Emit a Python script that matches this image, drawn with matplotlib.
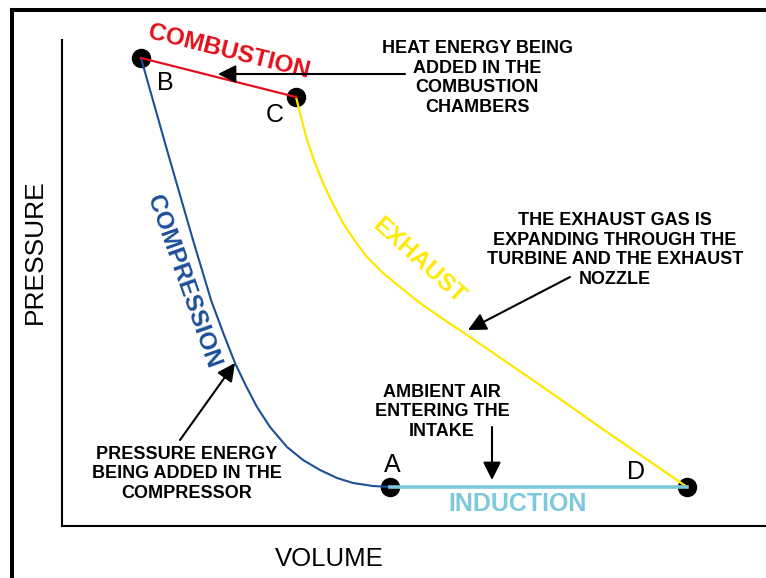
import matplotlib
matplotlib.use("Agg")
import matplotlib.pyplot as plt
from matplotlib.lines import Line2D

plt.rcParams['font.family'] = ['Liberation Sans', 'DejaVu Sans']

# cycle states (volume, pressure in arbitrary units)
state_names = ["A", "B", "C", "D"]
state_volume = [328, 79, 234, 625]
state_pressure = [39, 468, 429, 39]

# compression stroke B -> A
compression_volume = [79, 105, 131, 149, 162, 173, 184, 195, 208, 225, 241, 258, 275, 291, 311, 328]
compression_pressure = [468, 376, 286, 226, 191, 163, 140, 119, 99, 79, 66, 56, 48, 43, 40, 39]

# expansion through turbine and nozzle C -> D
exhaust_volume = [234, 238, 245, 253, 261, 271, 281, 293, 305, 321, 338, 358, 378, 408, 478, 545, 625]
exhaust_pressure = [429, 413, 386, 363, 343, 322, 303, 285, 269, 253, 239, 223, 209, 189, 141, 94, 39]

RED = "#e3101b"
BLUE = "#1c4f99"
YELLOW = "#ffe800"
LIGHTBLUE = "#7dc8dc"

fig = plt.figure(figsize=(7.66, 5.78), dpi=100)
W, H = 766, 578

# outer frame (left and top edges)
fig.add_artist(Line2D([12 / W, 12 / W], [0, 1 - 10 / H], color="black", lw=2.9))
fig.add_artist(Line2D([12 / W, 1], [1 - 10 / H, 1 - 10 / H], color="black", lw=2.9))

ax = fig.add_axes([62 / W, 52 / H, 704 / W, 486 / H])
ax.set_xlim(0, 704)
ax.set_ylim(0, 486)
ax.set_xticks([])
ax.set_yticks([])
for s in ["top", "right"]:
    ax.spines[s].set_visible(False)
for s in ["left", "bottom"]:
    ax.spines[s].set_linewidth(1.5)

iA, iB, iC, iD = 0, 1, 2, 3
ax.plot(compression_volume, compression_pressure, color=BLUE, lw=1.5, zorder=2)
ax.plot(exhaust_volume, exhaust_pressure, color=YELLOW, lw=1.6, zorder=2)
ax.plot([state_volume[iB], state_volume[iC]], [state_pressure[iB], state_pressure[iC]],
        color=RED, lw=1.6, zorder=2)
ax.plot([state_volume[iA], state_volume[iD]], [state_pressure[iA], state_pressure[iD]],
        color=LIGHTBLUE, lw=2.6, zorder=2)
ax.plot(state_volume, state_pressure, "o", color="black", ms=13, zorder=1, clip_on=False)

# state letters
letter_pos = {"A": (330, 61), "B": (103, 443), "C": (213, 411), "D": (574, 54)}
for name in state_names:
    x, y = letter_pos[name]
    ax.text(x, y, name, fontsize=18, ha="center", va="center")

# stroke names
ax.text(167, 474, "COMBUSTION", color=RED, fontsize=17.5, fontweight="bold",
        rotation=-14, ha="center", va="center", rotation_mode="anchor")
ax.text(121, 244, "COMPRESSION", color=BLUE, fontsize=17.5, fontweight="bold",
        rotation=-70.5, ha="center", va="center", rotation_mode="anchor")
ax.text(357, 265, "EXHAUST", color=YELLOW, fontsize=17.5, fontweight="bold",
        rotation=-42, ha="center", va="center", rotation_mode="anchor")
ax.text(456, 22, "INDUCTION", color=LIGHTBLUE, fontsize=18, fontweight="bold",
        ha="center", va="center")

# axis titles
ax.text(-27, 274, "PRESSURE", fontsize=19, rotation=90, ha="center", va="center")
ax.text(267, -33, "VOLUME", fontsize=18.5, ha="center", va="center")

arrow = dict(arrowstyle="-|>,head_length=0.6,head_width=0.3", color="black",
             lw=1.5, mutation_scale=18, shrinkA=0, shrinkB=0)
note = dict(fontsize=13, fontweight="bold", ha="center", va="center",
            linespacing=1.18)

ax.text(415, 448, "HEAT ENERGY BEING\nADDED IN THE\nCOMBUSTION\nCHAMBERS", **note)
ax.annotate("", xy=(156, 452), xytext=(343, 452), arrowprops=arrow)

ax.text(553, 276, "THE EXHAUST GAS IS\nEXPANDING THROUGH THE\nTURBINE AND THE EXHAUST\nNOZZLE", **note)
ax.annotate("", xy=(406, 196), xytext=(508, 249), arrowprops=arrow)

ax.text(125, 52, "PRESSURE ENERGY\nBEING ADDED IN THE\nCOMPRESSOR", **note)
ax.annotate("", xy=(173, 163), xytext=(118, 86), arrowprops=arrow)

ax.text(380, 114, "AMBIENT AIR\nENTERING THE\nINTAKE", **note)
ax.annotate("", xy=(430, 46), xytext=(430, 99), arrowprops=arrow)

fig.savefig("out.png", dpi=100)
